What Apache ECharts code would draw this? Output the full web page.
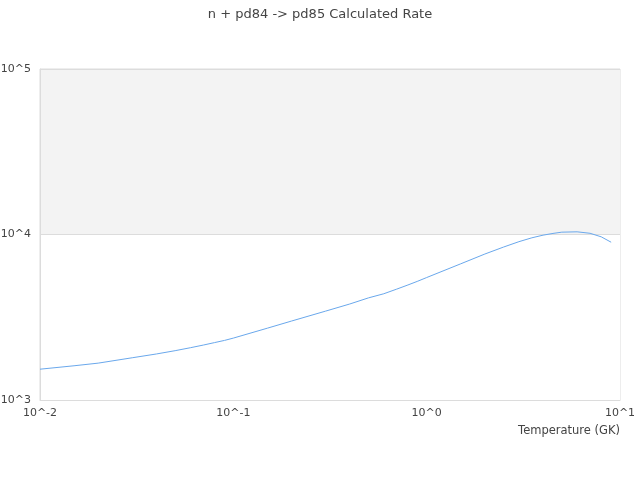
<!DOCTYPE html>
<html>
<head>
<meta charset="utf-8">
<title>n + pd84 -> pd85 Calculated Rate</title>
<script src="https://cdn.jsdelivr.net/npm/echarts@6/dist/echarts.min.js"></script>
<style>
  html, body { margin: 0; padding: 0; background: #fff; }
  #chart { width: 640px; height: 480px; }
</style>
</head>
<body>
<div id="chart"></div>
<script>
// temperature grid (GK) and rate values
var temperatures = [0.01, 0.015, 0.02, 0.03, 0.04, 0.05, 0.06, 0.07, 0.08, 0.09,
  0.1, 0.15, 0.2, 0.3, 0.4, 0.5, 0.6, 0.7, 0.8, 0.9,
  1, 1.5, 2, 2.5, 3, 3.5, 4, 4.5, 5, 6, 7, 8, 9];
var rates = [1535, 1610, 1670, 1800, 1897, 1986, 2070, 2148, 2223, 2291,
  2366, 2716, 3000, 3443, 3802, 4140, 4385, 4677, 4955, 5224,
  5495, 6650, 7621, 8400, 9050, 9550, 9908, 10150, 10330, 10380, 10170, 9680, 8980];

var xTickLabels = { 0.01: '10^-2', 0.1: '10^-1', 1: '10^0', 10: '10^1' };
var yTickLabels = { 1000: '10^3', 10000: '10^4', 100000: '10^5' };

var points = temperatures.map(function (t, i) { return [t, rates[i]]; });

var chartDom = document.getElementById('chart');
var myChart = echarts.init(chartDom);
var option;

option = {
  animation: false,
  title: {
    text: 'n + pd84 -> pd85 Calculated Rate',
    left: 'center',
    top: 3,
    textStyle: { fontSize: 13, fontWeight: 'normal', color: '#444', fontFamily: 'DejaVu Sans' }
  },
  grid: {
    left: 40, right: 20, top: 69, bottom: 80,
    containLabel: false,
    outerBoundsMode: 'none',
    show: true, borderColor: '#dcdcdc', borderWidth: 1, backgroundColor: 'transparent'
  },
  xAxis: {
    type: 'log',
    logBase: 10,
    min: 0.01,
    max: 10,
    name: 'Temperature (GK)',
    nameLocation: 'end',
    nameGap: 0,
    nameTextStyle: {
      fontSize: 11.5, color: '#444', fontFamily: 'DejaVu Sans',
      align: 'right', verticalAlign: 'top', padding: [25, 0, 0, 0]
    },
    axisLine: { lineStyle: { color: '#dcdcdc' } },
    axisTick: { show: false },
    splitLine: { show: false },
    axisLabel: {
      fontSize: 11, color: '#444', fontFamily: 'DejaVu Sans', margin: 8,
      formatter: function (v) { return xTickLabels[v] || ''; }
    }
  },
  yAxis: {
    type: 'log',
    logBase: 10,
    min: 1000,
    max: 100000,
    axisLine: { show: true, lineStyle: { color: '#dcdcdc' } },
    axisTick: { show: false },
    splitLine: { show: true, lineStyle: { color: '#dcdcdc' } },
    splitArea: { show: true, areaStyle: { color: ['#f3f3f3', '#ffffff'] } },
    axisLabel: {
      fontSize: 11, color: '#444', fontFamily: 'DejaVu Sans', margin: 9,
      formatter: function (v) { return yTickLabels[v] || ''; }
    }
  },
  series: [
    {
      type: 'line',
      data: points,
      showSymbol: false,
      smooth: false,
      lineStyle: { color: '#6aa8ec', width: 1 }
    }
  ]
};

if (option && typeof option === 'object') {
  myChart.setOption(option);
}
</script>
</body>
</html>
